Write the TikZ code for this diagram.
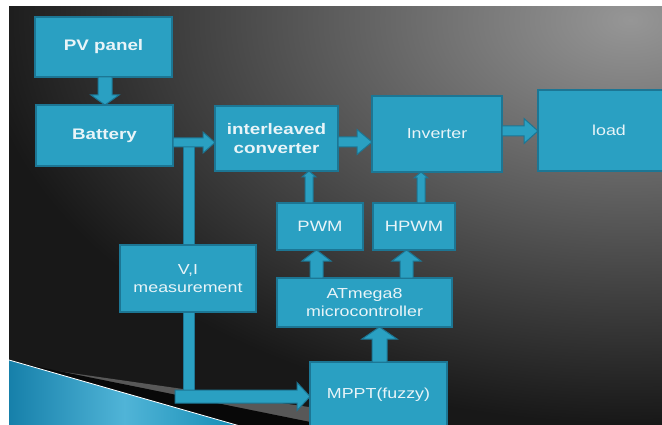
\documentclass[tikz,border=0pt]{standalone}
\usepackage{fontspec}
\setmainfont{Liberation Sans}[FakeStretch=1.23]
\usetikzlibrary{calc}
\definecolor{boxfill}{RGB}{42,160,194}
\definecolor{boxline}{RGB}{28,118,148}
\definecolor{txt}{RGB}{232,244,248}
\definecolor{bgA}{RGB}{150,150,150}
\definecolor{bgB}{RGB}{24,24,24}
\definecolor{wedgeA}{RGB}{22,128,170}
\definecolor{wedgeB}{RGB}{80,180,215}
\definecolor{wedgeC}{RGB}{20,140,180}
\definecolor{grayw}{RGB}{88,88,88}
\definecolor{blackw}{RGB}{8,8,8}
\pgfdeclareradialshading{bgrad}{\pgfpoint{0bp}{0bp}}{color(0bp)=(bgA); color(25bp)=(bgB); color(50bp)=(bgB)}
\newcommand\arrR[5]{\path[barr] let \p1=(#1),\p2=(#2) in (\x1,\y1+#3) -- (\x2-#5,\y1+#3) -- (\x2-#5,\y1+#4) -- (\x2,\y1) -- (\x2-#5,\y1-#4) -- (\x2-#5,\y1-#3) -- (\x1,\y1-#3) -- cycle;}
\newcommand\arrU[5]{\path[barr] let \p1=(#1),\p2=(#2) in (\x1-#3,\y1) -- (\x1-#3,\y2-#5) -- (\x1-#4,\y2-#5) -- (\x1,\y2) -- (\x1+#4,\y2-#5) -- (\x1+#3,\y2-#5) -- (\x1+#3,\y1) -- cycle;}
\newcommand\arrD[5]{\path[barr] let \p1=(#1),\p2=(#2) in (\x1-#3,\y1) -- (\x1-#3,\y2+#5) -- (\x1-#4,\y2+#5) -- (\x1,\y2) -- (\x1+#4,\y2+#5) -- (\x1+#3,\y2+#5) -- (\x1+#3,\y1) -- cycle;}
\newcommand\barV[3]{\path[barr] let \p1=(#1),\p2=(#2) in (\x1-#3,\y1) rectangle (\x1+#3,\y2);}
\tikzset{
  box/.style={draw=boxline, fill=boxfill, line width=1.2pt, text=txt, inner sep=0pt, outer sep=0pt, align=center, font=\fontsize{14.5}{18.5}\selectfont},
  bbox/.style={box, font=\fontsize{15.3}{18.5}\selectfont\bfseries},
  pbox/.style={box, font=\fontsize{15}{18.5}\selectfont},
  barr/.style={draw=boxline, fill=boxfill, line width=1pt, line join=miter}
}
\begin{document}
\begin{tikzpicture}[x=1pt, y=-1pt]
\useasboundingbox (0,0) rectangle (662,425);
\fill[white] (0,0) rectangle (662,425);
\begin{scope}
\clip (9,7) rectangle (662,425);
\fill[bgB] (9,7) rectangle (662,425);
\begin{scope}[shift={(630,20)}, yscale=0.62]
\shade[shading=bgrad] (0,0) circle (650pt);
\end{scope}
% bottom-left decoration
\fill[grayw] (50,370) -- (330,410) -- (330,425) -- (250,425) -- cycle;
\fill[blackw] (9,361) -- (330,426) -- (9,426) -- cycle;
\shade[left color=wedgeA, right color=wedgeC, middle color=wedgeB] (9,360) -- (240,426) -- (9,426) -- cycle;
\draw[white, line width=0.8pt] (9,360) -- (240,426);

% nodes
\node[bbox, minimum width=137pt, minimum height=60pt] (pv) at (103.5,47) {PV panel};
\node[bbox, minimum width=137pt, minimum height=61pt] (bat) at (104.5,135.5) {Battery};
\node[bbox, minimum width=123pt, minimum height=65pt] (conv) at (276.5,138.5) {interleaved\\converter};
\node[box, minimum width=130pt, minimum height=76pt] (inv) at (437,134) {Inverter};
\node[box, minimum width=142pt, minimum height=81pt] (load) at (609,130.5) {load};
\node[pbox, minimum width=86pt, minimum height=47pt] (pwm) at (320,226.5) {PWM};
\node[pbox, minimum width=82pt, minimum height=47pt] (hpwm) at (414,226.5) {HPWM};
\node[box, minimum width=136pt, minimum height=67pt] (vi) at (188,278.5) {V,I\\measurement};
\node[box, minimum width=175pt, minimum height=49pt] (atm) at (364.5,302.5) {ATmega8\\microcontroller};
\node[box, minimum width=137pt, minimum height=66pt] (mppt) at (378.5,395) {MPPT(fuzzy)};

% junction coordinates
\coordinate (j1) at ($(bat.east)+(15.5,11.5)$);
\coordinate (j2) at ($(vi.south)+(0.5,0)$);
\coordinate (j3) at ($(bat.east)+(2,261)$);

% bars
\barV{j1}{vi.north}{5.5pt}
\barV{j2}{j3}{5.5pt}

% arrows
\coordinate (a1) at ($(pv.south)+(1.5,0)$);
\arrD{a1}{bat.north}{7pt}{14pt}{10pt}
\coordinate (a2) at ($(bat.east)+(0,7)$);
\arrR{a2}{conv.west}{4.5pt}{10.5pt}{12pt}
\coordinate (a3) at ($(conv.east)+(0,3.5)$);
\arrR{a3}{inv.west}{5pt}{12.5pt}{15pt}
\coordinate (a4) at ($(inv.east)+(0,-3)$);
\arrR{a4}{load.west}{5pt}{12.5pt}{14pt}
\coordinate (a5) at ($(pwm.north)+(-11,0)$);
\arrU{a5}{conv.south}{4pt}{7pt}{6pt}
\coordinate (a6) at ($(hpwm.north)+(7,0)$);
\arrU{a6}{inv.south}{4pt}{7pt}{6pt}
\coordinate (a7) at ($(atm.north)+(-48,0)$);
\arrU{a7}{pwm.south}{6.5pt}{14.5pt}{11pt}
\coordinate (a8) at ($(atm.north)+(42,0)$);
\arrU{a8}{hpwm.south}{6.5pt}{14.5pt}{11pt}
\coordinate (a9) at ($(mppt.north)+(1,0)$);
\arrU{a9}{atm.south}{7.5pt}{17.5pt}{12pt}
\arrR{j3}{mppt.west}{6.5pt}{14pt}{13pt}
\end{scope}
\end{tikzpicture}
\end{document}
